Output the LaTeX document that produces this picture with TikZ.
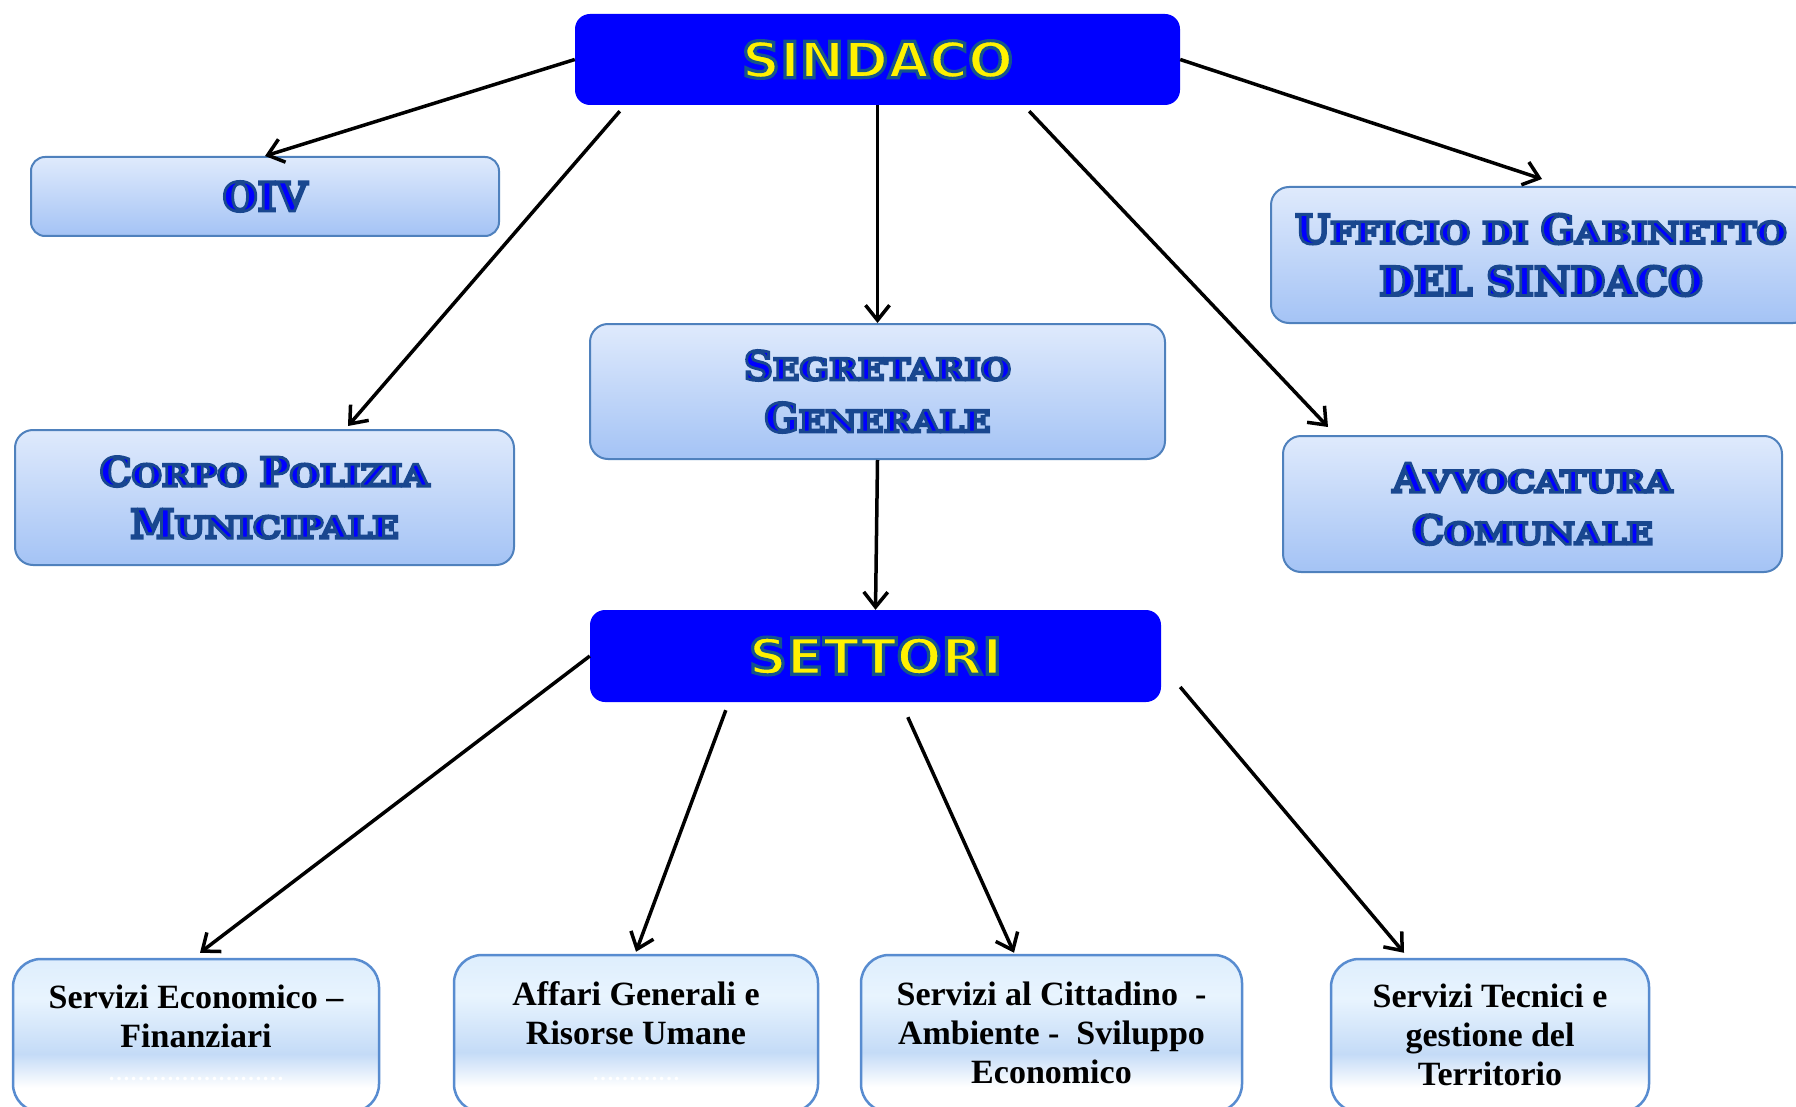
\documentclass[tikz,border=0pt]{standalone}
\usepackage{fontspec}
\usetikzlibrary{arrows.meta,calc}
\newfontfamily\capbig{DejaVu Serif}
\newfontfamily\capsmall[FakeStretch=1.16]{DejaVu Serif}
\newfontfamily\titlefont[FakeStretch=1.06]{DejaVu Sans}
\newfontfamily\botfont{Liberation Serif}
\definecolor{boxborder}{RGB}{79,129,189}
\definecolor{boxtop}{RGB}{223,234,252}
\definecolor{boxbot}{RGB}{164,195,245}
\definecolor{bbtop}{RGB}{222,238,253}
\definecolor{bbup}{RGB}{232,244,254}
\definecolor{bbmid}{RGB}{196,219,247}
\definecolor{bbborder}{RGB}{88,140,208}
\pgfdeclareverticalshading{botshade}{100bp}{color(0bp)=(white); color(33bp)=(white); color(44bp)=(bbmid); color(62bp)=(bbup); color(75bp)=(bbtop); color(100bp)=(bbtop)}
\newcommand\Lg[1]{{\capbig\fontsize{40}{52}\selectfont#1}}
\newcommand\OLblue{\special{pdf:literal direct 2 Tr 2.8 w 0.10 0.28 0.56 RG}}
\newcommand\OLyel{\special{pdf:literal direct 2 Tr 3.2 w 0.08 0.33 0.55 RG}}
\newcommand\OLoff{\special{pdf:literal direct 0 Tr}}
\tikzset{
  headbox/.style={fill=blue, rounded corners=15pt, inner sep=0pt, text=yellow,
    font=\titlefont\bfseries\fontsize{50}{60}\selectfont},
  unitbox/.style={draw=boxborder, line width=2pt, rounded corners=18pt,
    top color=boxtop, bottom color=boxbot, inner sep=0pt, text=blue, align=center,
    font=\capsmall\bfseries\fontsize{30}{52}\selectfont},
  secbox/.style={draw=bbborder, line width=2.5pt, rounded corners=28pt,
    shade, shading=botshade, inner sep=0pt},
  sectext/.style={inner sep=0pt, align=center, anchor=north,
    font=\botfont\bfseries\fontsize{34}{39}\selectfont, text=black},
  dotrow/.style={inner sep=0pt, anchor=base, text=white,
    font=\botfont\bfseries\fontsize{22}{22}\selectfont},
  conn/.style={line width=3.5pt, -{Straight Barb[length=15pt,width=24pt]}}
}
\begin{document}
\begin{tikzpicture}[x=1pt,y=-1pt]
\useasboundingbox (0,0) rectangle (1796,1107);
\clip (0,0) rectangle (1796,1107);
\fill[white] (0,0) rectangle (1796,1107);

\node[headbox, minimum width=605pt, minimum height=91pt] (sindaco) at (877.5,59.5) {\OLyel SINDACO\OLoff};
\node[unitbox, rounded corners=14pt, minimum width=468pt, minimum height=79pt] (oiv) at (265,196.5) {\OLblue\Lg{OIV}\OLoff};
\node[unitbox, minimum width=540pt, minimum height=136pt] (uff) at (1541,255) {\OLblue\Lg{U}FFICIO DI \Lg{G}ABINETTO\\\Lg{DEL SINDACO}\OLoff};
\node[unitbox, minimum width=575pt, minimum height=135pt] (segr) at (877.5,391.5) {\OLblue\Lg{S}EGRETARIO\\\Lg{G}ENERALE\OLoff};
\node[unitbox, minimum width=499pt, minimum height=135pt] (corpo) at (264.5,497.5) {\OLblue\Lg{C}ORPO \Lg{P}OLIZIA\\\Lg{M}UNICIPALE\OLoff};
\node[unitbox, minimum width=499pt, minimum height=136pt] (avv) at (1532.5,504) {\OLblue\Lg{A}VVOCATURA\\\Lg{C}OMUNALE\OLoff};
\node[headbox, minimum width=571pt, minimum height=92pt] (settori) at (875.5,656) {\OLyel SETTORI\OLoff};

\node[secbox, minimum width=366pt, minimum height=153pt] (b1) at (196,1035.5) {};
\node[secbox, minimum width=364pt, minimum height=157pt] (b2) at (636,1033.5) {};
\node[secbox, minimum width=381pt, minimum height=157pt] (b3) at (1051.5,1033.5) {};
\node[secbox, minimum width=318pt, minimum height=153pt] (b4) at (1490,1035.5) {};

\node[sectext] (t1) at ($(b1.north)+(0,23)$) {\rule{0pt}{28pt}Servizi Economico –\\Finanziari};
\node[sectext] (t2) at ($(b2.north)+(0,24)$) {\rule{0pt}{28pt}Affari Generali e\\Risorse Umane};
\node[sectext] (t3) at ($(b3.north)+(0,24)$) {\rule{0pt}{28pt}Servizi al Cittadino\ \ -\\Ambiente -\ \ Sviluppo\\Economico};
\node[sectext] (t4) at ($(b4.north)+(0,22)$) {\rule{0pt}{28pt}Servizi Tecnici e\\gestione del\\Territorio};
\node[dotrow] (d1) at ($(b1.north)+(0,123)$) {……………………};
\node[dotrow] (d2) at ($(b2.north)+(0,127)$) {…………};

\draw[conn] (sindaco.west) -- (oiv.north);
\draw[conn] ($(sindaco.south west)+(45,6)$) -- ($(corpo.north west)+(334,-3)$);
\draw[conn] (sindaco.south) -- (segr.north);
\draw[conn] ($(sindaco.south east)+(-151,6)$) -- ($(avv.north west)+(46,-8)$);
\draw[conn] (sindaco.east) -- ($(uff.north)+(1,-7)$);
\draw[conn] (segr.south) -- (settori.north);
\draw[conn] (settori.west) -- ($(b1.north)+(4,-5)$);
\draw[conn] ($(settori.south west)+(136,8)$) -- ($(b2.north)+(0,-2)$);
\draw[conn] ($(settori.south west)+(318,15)$) -- ($(b3.north)+(-37.5,-1)$);
\draw[conn] ($(settori.east)+(19,31)$) -- ($(b4.north)+(-86,-5)$);
\end{tikzpicture}
\end{document}
